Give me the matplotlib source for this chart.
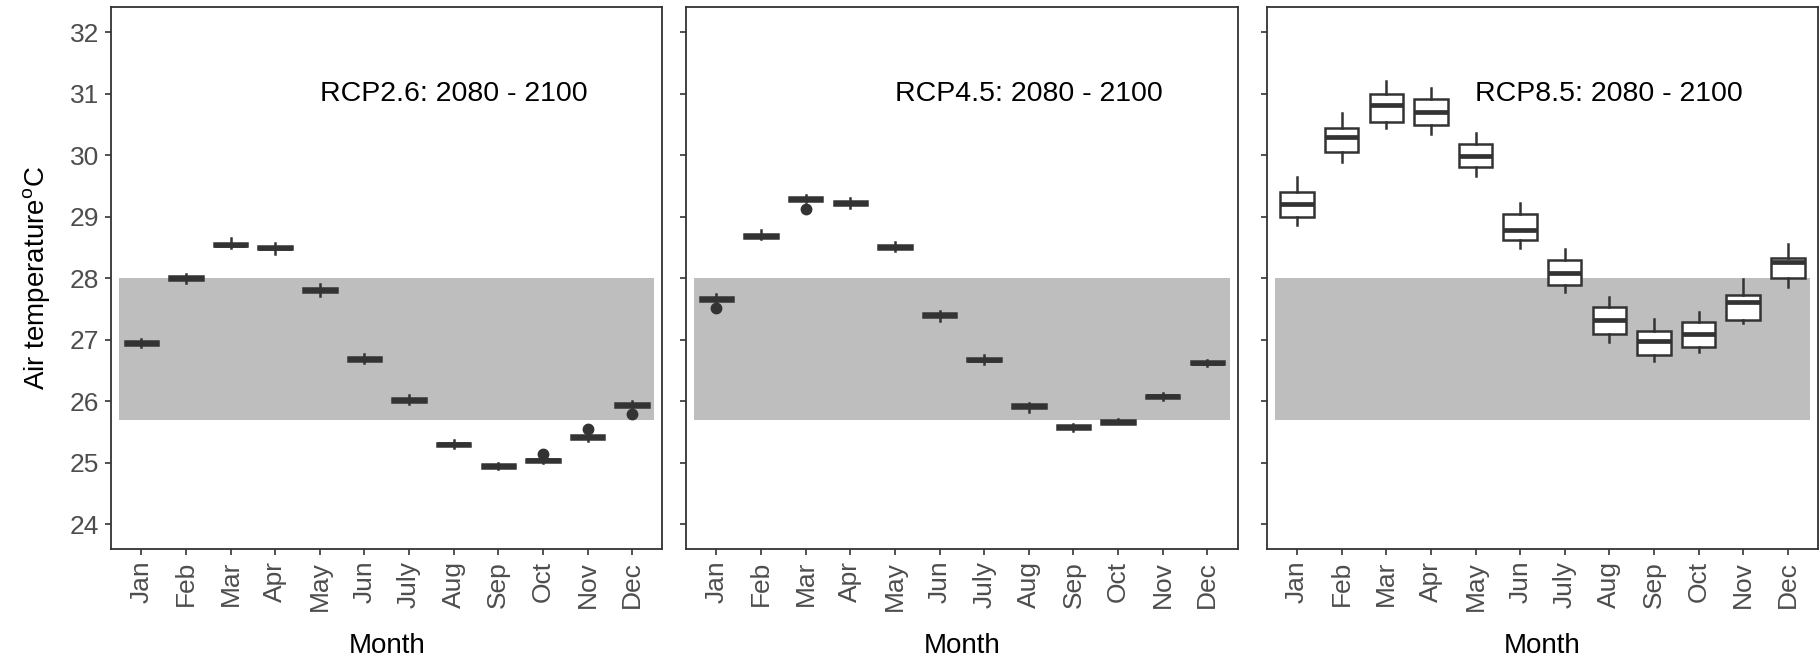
import matplotlib
matplotlib.use("Agg")
import matplotlib.pyplot as plt

plt.rcParams['font.family'] = ['Liberation Sans', 'DejaVu Sans']
plt.rcParams['mathtext.fontset'] = 'custom'
plt.rcParams['mathtext.rm'] = 'Liberation Sans'

# month labels
months = ["Jan", "Feb", "Mar", "Apr", "May", "Jun", "July", "Aug", "Sep", "Oct", "Nov", "Dec"]

# RCP2.6 box stats
rcp26_med = [26.95, 28.00, 28.55, 28.50, 27.81, 26.69, 26.02, 25.30, 24.95, 25.04, 25.42, 25.94]
rcp26_q1 = [26.92, 27.97, 28.52, 28.47, 27.78, 26.66, 25.99, 25.27, 24.92, 25.01, 25.39, 25.91]
rcp26_q3 = [26.98, 28.03, 28.58, 28.53, 27.84, 26.72, 26.05, 25.33, 24.98, 25.07, 25.45, 25.97]
rcp26_lo = [26.88, 27.93, 28.49, 28.40, 27.72, 26.62, 25.95, 25.25, 24.90, 25.00, 25.35, 25.90]
rcp26_hi = [27.01, 28.07, 28.66, 28.58, 27.90, 26.77, 26.10, 25.37, 25.00, 25.08, 25.50, 26.00]
rcp26_out = [[], [], [], [], [], [], [], [], [], [25.14], [25.55], [25.79]]

# RCP4.5 box stats
rcp45_med = [27.66, 28.69, 29.29, 29.23, 28.51, 27.40, 26.68, 25.92, 25.58, 25.67, 26.08, 26.63]
rcp45_q1 = [27.63, 28.66, 29.26, 29.20, 28.48, 27.37, 26.65, 25.89, 25.55, 25.64, 26.05, 26.60]
rcp45_q3 = [27.69, 28.72, 29.32, 29.26, 28.54, 27.43, 26.71, 25.95, 25.61, 25.70, 26.11, 26.66]
rcp45_lo = [27.60, 28.64, 29.24, 29.14, 28.44, 27.30, 26.60, 25.83, 25.52, 25.63, 26.02, 26.58]
rcp45_hi = [27.74, 28.79, 29.35, 29.30, 28.59, 27.47, 26.76, 25.97, 25.63, 25.72, 26.14, 26.67]
rcp45_out = [[27.52], [], [29.12], [], [], [], [], [], [], [], [], []]

# RCP8.5 box stats
rcp85_med = [29.21, 30.30, 30.82, 30.71, 29.99, 28.79, 28.08, 27.32, 26.98, 27.10, 27.62, 28.27]
rcp85_q1 = [29.00, 30.05, 30.54, 30.49, 29.81, 28.62, 27.89, 27.09, 26.75, 26.89, 27.32, 28.01]
rcp85_q3 = [29.40, 30.44, 30.99, 30.92, 30.18, 29.05, 28.30, 27.53, 27.15, 27.29, 27.73, 28.33]
rcp85_lo = [28.86, 29.89, 30.45, 30.35, 29.66, 28.49, 27.77, 26.96, 26.65, 26.81, 27.28, 27.86]
rcp85_hi = [29.64, 30.69, 31.20, 31.10, 30.36, 29.22, 28.47, 27.69, 27.34, 27.46, 27.99, 28.56]
rcp85_out = [[] for _ in months]

titles = ["RCP2.6: 2080 - 2100", "RCP4.5: 2080 - 2100", "RCP8.5: 2080 - 2100"]
band_low, band_high = 25.7, 28.0

panels = [
    (rcp26_med, rcp26_q1, rcp26_q3, rcp26_lo, rcp26_hi, rcp26_out),
    (rcp45_med, rcp45_q1, rcp45_q3, rcp45_lo, rcp45_hi, rcp45_out),
    (rcp85_med, rcp85_q1, rcp85_q3, rcp85_lo, rcp85_hi, rcp85_out),
]

dark = '#333333'
grey_txt = '#4D4D4D'

fig = plt.figure(figsize=(18.2, 6.65), dpi=100)
lefts = [0.061, 0.377, 0.696]
width = 0.303
bottom, height = 0.1744, 0.815

positions = list(range(1, len(months) + 1))

for i, (med, q1, q3, lo, hi, out) in enumerate(panels):
    ax = fig.add_axes([lefts[i], bottom, width, height])
    ax.fill_between([0.5, 12.5], band_low, band_high, color='#BEBEBE', lw=0, zorder=0)
    stats = []
    for k in range(len(months)):
        stats.append({'med': med[k], 'q1': q1[k], 'q3': q3[k],
                      'whislo': lo[k], 'whishi': hi[k], 'fliers': out[k]})
    ax.bxp(stats, positions=positions, widths=0.75, patch_artist=True, showcaps=False,
           boxprops=dict(facecolor='white', edgecolor=dark, linewidth=1.8),
           medianprops=dict(color=dark, linewidth=3.4, solid_capstyle='butt'),
           whiskerprops=dict(color=dark, linewidth=1.8),
           flierprops=dict(marker='o', markerfacecolor=dark, markeredgecolor=dark,
                           markersize=7.5, linestyle='none'))
    ax.set_xlim(0.32, 12.68)
    ax.set_ylim(23.6, 32.41)
    ax.set_yticks(range(24, 33))
    ax.set_xticks(positions)
    ax.set_xticklabels(months, rotation=90, fontsize=19, color=grey_txt)
    if i == 0:
        ax.set_yticklabels([str(v) for v in range(24, 33)], fontsize=19, color=grey_txt)
        ax.set_ylabel(r"Air temperature$^\mathrm{o}$C", fontsize=20, labelpad=12)
    else:
        ax.set_yticklabels([])
    ax.tick_params(axis='both', length=4.5, width=1.2, color=dark, pad=4)
    for s in ax.spines.values():
        s.set_color(dark)
        s.set_linewidth(1.3)
    ax.set_xlabel("Month", fontsize=20, labelpad=16)
    ax.text(8, 31, titles[i], fontsize=20.5, ha='center', va='center', color='black')

fig.savefig("out.png", dpi=100)
